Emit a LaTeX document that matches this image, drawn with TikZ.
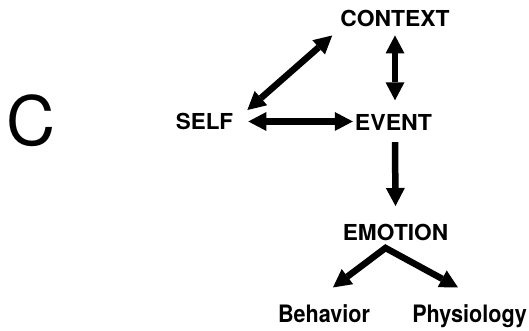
\documentclass[tikz,border=0pt]{standalone}
\usepackage{fontspec}
\usepackage{graphicx}
\setmainfont{TeX Gyre Heros}
\usetikzlibrary{arrows.meta,calc}
\tikzset{
  capslabel/.style={inner sep=0pt, anchor=base, font=\fontsize{22}{22}\selectfont\bfseries},
  lowlabel/.style={inner sep=0pt, anchor=base, font=\fontsize{24}{24}\selectfont\bfseries},
  paneltag/.style={inner sep=0pt, anchor=base, font=\fontsize{68}{68}\selectfont},
  bigtip/.tip={Triangle[length=18pt,width=19pt,line width=0pt]},
  twoway/.style={line width=6.5pt, bigtip-bigtip},
  oneway/.style={line width=6.5pt, -bigtip},
}
\begin{document}
\begin{tikzpicture}[x=1pt,y=-1pt]
\useasboundingbox (0,0) rectangle (529,330);
\node[paneltag] (panel) at (31,145) {C};
\node[capslabel] (context) at (395,26.5) {\scalebox{1.04}[1]{CONTEXT}};
\node[capslabel] (self) at (204.5,129.5) {\scalebox{1.02}[1]{SELF}};
\node[capslabel] (event) at (393.5,130.5) {\scalebox{1.05}[1]{EVENT}};
\node[capslabel] (emotion) at (395.5,240.5) {\scalebox{1.03}[1]{EMOTION}};
\node[lowlabel] (behavior) at (324,322) {\scalebox{0.9}[1]{Behavior}};
\node[lowlabel] (physiology) at (469.5,322) {\scalebox{0.9}[1]{Physiology}};
\coordinate (apex) at ($(emotion.south)+(-10,7)$);

\draw[twoway] ($(self.north east)+(14,-3)$) -- ($(context.south west)+(-8,8.5)$);
\draw[twoway] ($(context.south)+(0,8.5)$) -- ($(context.south |- event.north)+(0,-14)$);
\draw[twoway] ($(self.east)+(15,0)$) -- ($(event.west |- self.east)+(-2,0)$);
\draw[oneway] ($(event.south)+(1.5,11.5)$) -- ($(emotion.north)+(0,-18)$);
\draw[twoway, line join=miter] ($(behavior.north)+(9,-16.5)$) -- (apex) -- ($(physiology.north)+(-11.5,-16.5)$);
\end{tikzpicture}
\end{document}
